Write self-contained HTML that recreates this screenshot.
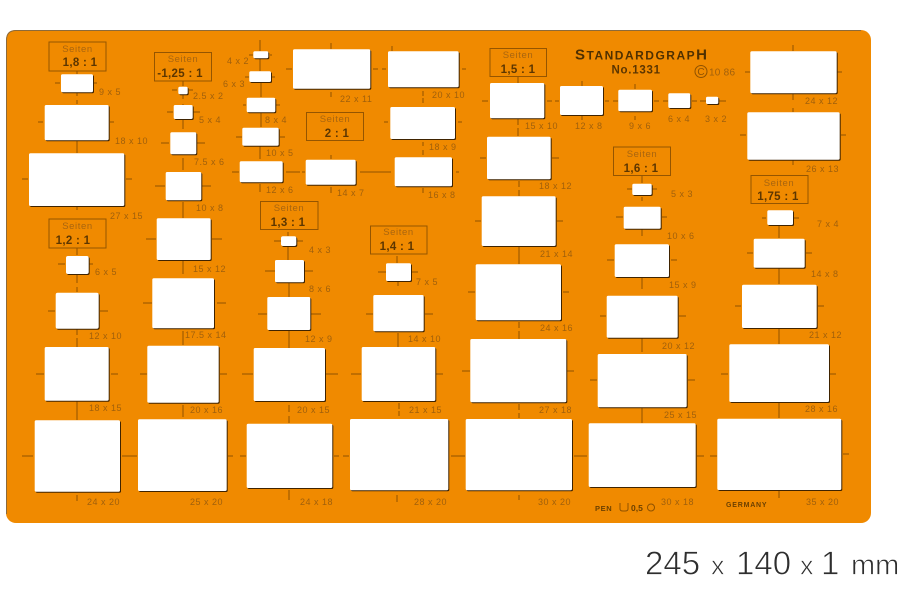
<!DOCTYPE html>
<html><head><meta charset="utf-8"><title>Standardgraph 1331</title>
<style>
html,body{margin:0;padding:0;background:#fff;width:900px;height:600px;overflow:hidden}
svg{display:block}
text{font-family:"Liberation Sans",sans-serif}
.l{font-size:9px;fill:#a0600c;letter-spacing:.5px}
.s{font-size:9.5px;fill:#a8650f;letter-spacing:.6px;text-anchor:middle}
.r{font-size:11.5px;font-weight:bold;fill:#5c3600;text-anchor:middle;letter-spacing:.3px}
.b{fill:none;stroke:#955500;stroke-width:1}
.t{fill:none;stroke:#8f5200;stroke-width:1}
.h{fill:#fff;filter:drop-shadow(1.2px 1.2px 0 #3f2300)}
.d{fill:#2e2e2e;stroke:#fff;stroke-width:.7px;paint-order:normal}
</style></head><body>
<svg width="900" height="600" viewBox="0 0 900 600" xmlns="http://www.w3.org/2000/svg">
<rect x="6" y="30" width="865" height="493" rx="10" fill="#f08a00"/>
<path d="M6.5 514V40Q6.5 30.500 16 30.500H861" fill="none" stroke="#8c6a3a" stroke-width="1"/>

<g class="b">
<rect x="49" y="42" width="57" height="29"/>
<rect x="49" y="219" width="57" height="29"/>
<rect x="154.500" y="52.500" width="57" height="28.500"/>
<rect x="260.500" y="201.500" width="57.500" height="28"/>
<rect x="306.500" y="112.500" width="57" height="28"/>
<rect x="370.500" y="226" width="56.500" height="28"/>
<rect x="490" y="48.500" width="56.500" height="28"/>
<rect x="613.500" y="147" width="57" height="28.500"/>
<rect x="751" y="175.500" width="57" height="28"/>
</g>

<path class="t" d="
M77 71V74M77 93V96M77 100V104M77 141V153M77 207V210M77 248V255M77 275V283M77 287V292M77 329V335M77 338V347M77 401V420M77 495V501
M55 83H60M94 83H97M38 122H43M110 122H114M22 179H28M126 179H132M58 264H65M89 264H93M48 311H55M100 311H108M36 374H44M111 374H118M22 456H33M122 456H137
M183 81V86M183 95V99M183 104V109M183 120V129M183 158V170M183 202V218M183 261V274M183 331V345M183 405V417
M172 90H177M189 90H193M167 112H173M193 112H200M161 143H169M197 143H205M155 186H165M202 186H211M146 239H156M212 239H222M143 303H152M217 303H226M140 374H147M220 374H227
M228 456H233M240 456H246M260 40V51M260 59V71M261 82V97M261 113V127M260 146V159M260 184V192
M249 55H253M270 55H272M245 77H249M272 77H275M243 105H246M276 105H280M236 137H242M280 137H285M232 172H239M286 172H300M302 172H305
M288 232V236M288 247V260M289 283V297M289 331V348M289 405V412M289 416V423M289 490V500
M274 241H281M297 241H303M265 271H275M305 271H313M258 314H267M311 314H321M242 374H253M326 374H338M334 456H339M343 456H349
M331 43V49M331 92V97M331 155V159M331 187V193M286 69H292M373 69H378M382 69H386
M360 172H391M392 46V51M423 91V96M423 98V103M423 142V146M423 150V155M423 188V193
M384 122H388M458 122H462M456 172H459M462 69H466M397 256V263M398 281V286M398 333V347M399 403V409M399 411V416M397 495V502
M378 272H386M412 272H418M366 314H373M425 314H433M351 374H361M436 374H443M451 456H464
M518 77V83M518 119V125M518 128V136M519 181V187M519 190V196M519 247V264M519 322V328M519 331V339M519 404V410M519 413V418M519 495V500
M482 101H488M547 101H552M555 101H559M480 158H486M552 158H559M475 221H481M557 221H563M468 292H475M563 292H569M462 371H470M567 371H574M451 456H465M574 456H587
M582 81V86M582 116V120M635 84V89M635 116V120M605 101H609M613 101H618M654 101H659M663 101H668M692 101H697M700 101H706M719 101H726
M642 176V183M642 197V201M642 229V236M642 278V289M642 338V352M642 408V423
M627 189H632M652 189H657M616 217H623M662 217H667M607 260H614M671 260H677M600 316H606M679 316H686M590 380H597M688 380H695M697 456H704M710 456H717
M793 45V51M793 94V100M793 108V112M793 160V165M779 226V238M779 268V284M779 329V344M779 403V418M779 491V498
M745 72H750M837 72H842M740 135H746M841 135H846M762 218H766M794 218H799M747 253H753M806 253H812M735 306H741M818 306H824M721 374H728M830 374H836M843 454H849"/>

<g class="h">
<rect x="61" y="74.300" width="32" height="18" rx="1.500"/><rect x="44.700" y="105" width="64" height="35.300" rx="1.500"/>
<rect x="29" y="153.300" width="95.300" height="52.700" rx="1.500"/><rect x="66" y="256" width="22.700" height="18" rx="2"/>
<rect x="55.700" y="292.700" width="43" height="36" rx="2"/><rect x="44.700" y="347" width="64" height="53.700" rx="1.500"/>
<rect x="34.700" y="420.300" width="85.300" height="71.400" rx="1.500"/>
<rect x="178.300" y="86.700" width="9.400" height="7.600" rx="1.500"/><rect x="173.700" y="105" width="19" height="14" rx="1.500"/>
<rect x="170.300" y="132.300" width="26" height="22" rx="1.500"/><rect x="165.700" y="172" width="35.600" height="28.300" rx="1.500"/>
<rect x="156.700" y="218.300" width="54" height="41.700" rx="1.500"/><rect x="152.300" y="278.300" width="61.700" height="50" rx="1.500"/>
<rect x="147.300" y="345.700" width="71.400" height="57" rx="1.500"/><rect x="138" y="419.300" width="88.700" height="71.700" rx="1.500"/>
<rect x="253.300" y="51.300" width="15" height="7" rx="1.500"/><rect x="249.300" y="71.300" width="21.700" height="10.700" rx="1.500"/>
<rect x="246.700" y="97.700" width="28.600" height="14.600" rx="1.500"/><rect x="242.300" y="127.700" width="36.400" height="18" rx="1.500"/>
<rect x="239.700" y="161.300" width="43" height="21" rx="1.500"/>
<rect x="281" y="236.300" width="15.300" height="9.700" rx="2"/><rect x="275" y="260" width="29" height="22.300" rx="1.500"/>
<rect x="267.300" y="297" width="43" height="33" rx="1.500"/><rect x="253.700" y="348" width="71.300" height="53" rx="1.500"/>
<rect x="246.700" y="423.700" width="85.600" height="64.300" rx="1.500"/>
<rect x="293" y="49.300" width="77.300" height="39.400" rx="1.500"/><rect x="388" y="51.300" width="70.700" height="36" rx="1.500"/>
<rect x="390.300" y="107" width="64.700" height="32" rx="1.500"/><rect x="305.700" y="159.700" width="50" height="25" rx="1.500"/>
<rect x="394.700" y="157.300" width="57.300" height="29" rx="1.500"/>
<rect x="386" y="263.300" width="25" height="17.700" rx="1.500"/><rect x="373.300" y="295" width="50.400" height="36.300" rx="1.500"/>
<rect x="361.700" y="347" width="73.600" height="54" rx="1.500"/><rect x="350" y="419" width="98.300" height="71.300" rx="1.500"/>
<rect x="490" y="83" width="54.300" height="35.300" rx="1.500"/><rect x="487" y="136.700" width="63.700" height="42.600" rx="1.500"/>
<rect x="481.700" y="196.300" width="74" height="49.700" rx="1.500"/><rect x="475.700" y="264.300" width="85.300" height="56" rx="1.500"/>
<rect x="470.300" y="339" width="96" height="63.300" rx="1.500"/><rect x="465.700" y="419" width="106.300" height="71.300" rx="1.500"/>
<rect x="560" y="86" width="43" height="29" rx="1.500"/><rect x="618.300" y="89.700" width="33.700" height="21.600" rx="1.500"/>
<rect x="668.300" y="93.300" width="22" height="14.700" rx="1.500"/><rect x="706" y="96.700" width="12.300" height="7.300" rx="1.500"/>
<rect x="632.300" y="183.700" width="19.400" height="11.300" rx="1.500"/><rect x="623.700" y="206.700" width="37" height="22" rx="1.500"/>
<rect x="614.700" y="244.300" width="54.300" height="32.700" rx="1.500"/><rect x="606.700" y="295.700" width="71" height="42" rx="1.500"/>
<rect x="597.700" y="354" width="89" height="53.300" rx="1.500"/><rect x="588.700" y="423.300" width="107" height="63.700" rx="1.500"/>
<rect x="750.300" y="51.300" width="86.400" height="42" rx="1.500"/><rect x="747.300" y="112.300" width="92.400" height="47.400" rx="1.500"/>
<rect x="767.300" y="210.300" width="25.700" height="14.700" rx="1.500"/><rect x="753.700" y="238.700" width="51" height="29" rx="1.500"/>
<rect x="742" y="284.700" width="74.700" height="43.300" rx="1.500"/><rect x="729.300" y="344.300" width="99.700" height="57.700" rx="1.500"/>
<rect x="717.300" y="418.700" width="124" height="71.300" rx="1.500"/>
</g>

<g>
<text class="s" x="77.500" y="52">Seiten</text><text class="r" x="80" y="66">1,8 : 1</text>
<text class="s" x="77.500" y="229">Seiten</text><text class="r" x="73" y="244">1,2 : 1</text>
<text class="s" x="183" y="62">Seiten</text><text class="r" x="180" y="77">-1,25 : 1</text>
<text class="s" x="289" y="211">Seiten</text><text class="r" x="288" y="226">1,3 : 1</text>
<text class="s" x="335" y="122">Seiten</text><text class="r" x="337" y="137">2 : 1</text>
<text class="s" x="398.500" y="235">Seiten</text><text class="r" x="397" y="250">1,4 : 1</text>
<text class="s" x="518" y="58">Seiten</text><text class="r" x="518" y="73">1,5 : 1</text>
<text class="s" x="642" y="157">Seiten</text><text class="r" x="641" y="172">1,6 : 1</text>
<text class="s" x="779" y="186">Seiten</text><text class="r" x="778" y="200">1,75 : 1</text>
</g>

<g class="l">
<text x="99" y="95">9 x 5</text><text x="115" y="144">18 x 10</text><text x="110" y="219">27 x 15</text>
<text x="95" y="275">6 x 5</text><text x="89" y="339">12 x 10</text><text x="89" y="411">18 x 15</text><text x="87" y="505">24 x 20</text>
<text x="193" y="99">2.5 x 2</text><text x="199" y="123">5 x 4</text><text x="194" y="165">7.5 x 6</text><text x="196" y="211">10 x 8</text>
<text x="193" y="272">15 x 12</text><text x="185" y="338">17.5 x 14</text><text x="190" y="413">20 x 16</text><text x="190" y="505">25 x 20</text>
<text x="227" y="64">4 x 2</text><text x="223" y="87">6 x 3</text><text x="265" y="123">8 x 4</text><text x="266" y="156">10 x 5</text><text x="266" y="193">12 x 6</text>
<text x="309" y="253">4 x 3</text><text x="309" y="292">8 x 6</text><text x="305" y="342">12 x 9</text><text x="297" y="413">20 x 15</text><text x="300" y="505">24 x 18</text>
<text x="340" y="102">22 x 11</text><text x="432" y="98">20 x 10</text><text x="429" y="150">18 x 9</text><text x="337" y="196">14 x 7</text><text x="428" y="198">16 x 8</text>
<text x="416" y="285">7 x 5</text><text x="408" y="342">14 x 10</text><text x="409" y="413">21 x 15</text><text x="414" y="505">28 x 20</text>
<text x="525" y="129">15 x 10</text><text x="539" y="189">18 x 12</text><text x="540" y="257">21 x 14</text><text x="540" y="331">24 x 16</text><text x="539" y="413">27 x 18</text><text x="538" y="505">30 x 20</text>
<text x="575" y="129">12 x 8</text><text x="629" y="129">9 x 6</text><text x="668" y="122">6 x 4</text><text x="705" y="122">3 x 2</text>
<text x="671" y="197">5 x 3</text><text x="667" y="239">10 x 6</text><text x="669" y="288">15 x 9</text><text x="662" y="349">20 x 12</text><text x="664" y="418">25 x 15</text><text x="661" y="505">30 x 18</text>
<text x="805" y="104">24 x 12</text><text x="806" y="172">26 x 13</text><text x="817" y="227">7 x 4</text><text x="811" y="277">14 x 8</text><text x="809" y="338">21 x 12</text><text x="805" y="412">28 x 16</text><text x="806" y="505">35 x 20</text>
</g>

<text x="575" y="59.500" font-weight="bold" fill="#4f3000" font-size="12" textLength="132" lengthAdjust="spacing"><tspan font-size="15">S</tspan>TANDARDGRAP<tspan font-size="15">H</tspan></text>
<text x="611.500" y="73.500" font-size="11.500" font-weight="bold" fill="#5c3600" textLength="48.500" lengthAdjust="spacing">No.1331</text>
<circle cx="701" cy="71.500" r="6" fill="none" stroke="#8f5200"/>
<text x="701" y="75" font-size="10" fill="#8f5200" text-anchor="middle">C</text>
<text x="709" y="75.500" font-size="10" fill="#a0600c" textLength="26" lengthAdjust="spacing">10 86</text>
<text x="595" y="511" font-size="7.500" font-weight="bold" fill="#6b4000" letter-spacing=".6">PEN</text>
<path d="M620 503V509Q620 511 623 511H625Q628 511 628 509V503" fill="none" stroke="#8f5200"/>
<text x="631" y="511" font-size="8.500" font-weight="bold" fill="#6b4000">0,5</text>
<circle cx="651" cy="507.500" r="3.500" fill="none" stroke="#8f5200"/>
<text x="726" y="507" font-size="7" font-weight="bold" fill="#6b4000" letter-spacing=".8">GERMANY</text>

<g class="d">
<text x="645" y="574.500" font-size="33">245</text>
<text x="711" y="574.500" font-size="27">x</text>
<text x="736" y="574.500" font-size="33">140</text>
<text x="800" y="574.500" font-size="27">x</text>
<text x="821" y="574.500" font-size="33">1</text>
<text x="851" y="574.500" font-size="29">mm</text>
</g>
</svg>
</body></html>
